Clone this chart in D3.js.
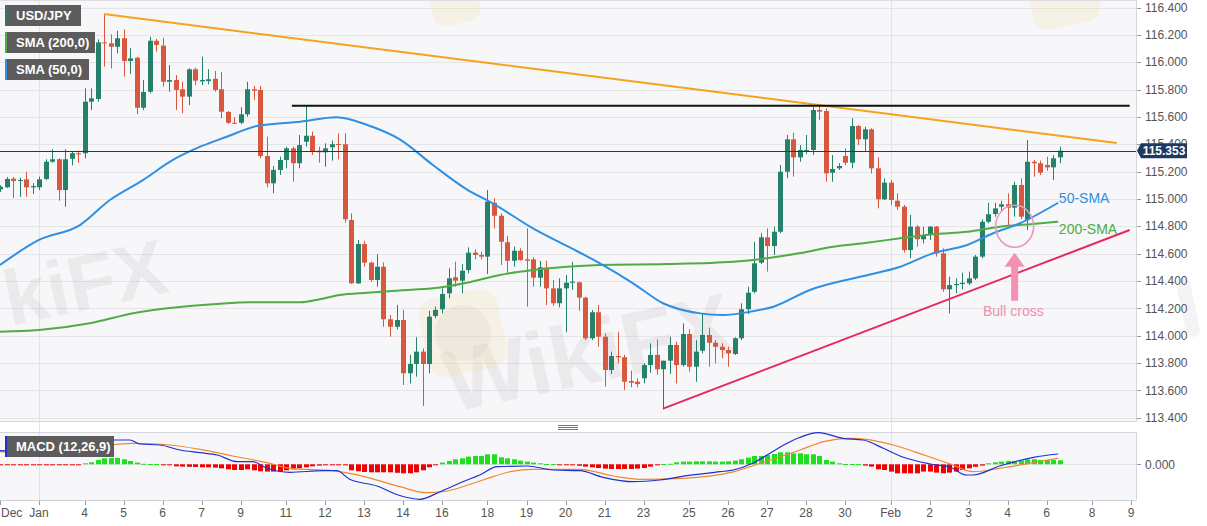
<!DOCTYPE html>
<html><head><meta charset="utf-8">
<script src="https://cdn.jsdelivr.net/npm/d3@7"></script>
<style>body{margin:0;background:#fff}svg{display:block;font-family:"Liberation Sans",Arial,sans-serif}</style>
</head><body><svg id="c" width="1207" height="526"></svg>
<script>
// ---------- DATA ----------
const firstIndex = -6; // candle index of first candle (4H candles)
// [open, high, low, close]
const ohlc = [
[115.070,115.100,115.050,115.089],[115.085,115.160,115.080,115.146],[115.148,115.160,115.007,115.131],[115.131,115.155,115.016,115.138],
[115.143,115.199,115.016,115.085],[115.085,115.116,115.036,115.094],[115.085,115.163,115.065,115.143],[115.146,115.290,115.138,115.272],
[115.272,115.363,115.265,115.290],[115.290,115.297,114.987,115.065],[115.065,115.363,114.943,115.290],[115.294,115.345,115.246,115.334],
[115.334,115.353,115.265,115.326],[115.334,115.809,115.297,115.711],[115.711,115.809,115.650,115.736],[115.731,116.167,115.711,116.145],
[116.145,116.358,115.967,116.138],[116.138,116.204,115.955,116.113],[116.113,116.230,116.065,116.175],[116.175,116.241,115.894,116.009],
[116.009,116.102,115.914,116.028],[116.033,116.040,115.619,115.667],[115.667,115.870,115.650,115.782],[115.784,116.186,115.772,116.157],
[116.157,116.170,116.077,116.126],[116.121,116.179,115.821,115.857],[115.857,115.979,115.784,115.870],[115.870,115.906,115.650,115.797],
[115.802,115.857,115.626,115.748],[115.748,115.955,115.687,115.948],[115.948,115.960,115.833,115.865],[115.860,116.040,115.833,115.870],
[115.862,115.948,115.838,115.875],[115.879,115.936,115.784,115.797],[115.802,115.930,115.590,115.638],[115.636,115.643,115.548,115.557],
[115.557,115.599,115.548,115.553],[115.557,115.670,115.548,115.619],[115.619,115.857,115.601,115.802],[115.802,115.826,115.723,115.791],
[115.797,115.826,115.297,115.314],[115.314,115.455,115.085,115.114],[115.114,115.241,115.041,115.212],[115.212,115.309,115.175,115.285],
[115.285,115.382,115.224,115.370],[115.370,115.382,115.126,115.261],[115.261,115.467,115.224,115.394],[115.418,115.674,115.382,115.462],
[115.462,115.492,115.321,115.345],[115.353,115.382,115.265,115.341],[115.341,115.407,115.236,115.370],[115.378,115.426,115.280,115.400],
[115.402,115.480,115.290,115.394],[115.400,115.480,114.826,114.851],[114.846,114.895,114.378,114.383],[114.383,114.700,114.378,114.670],
[114.670,114.694,114.504,114.534],[114.534,114.541,114.395,114.407],[114.407,114.595,114.358,114.504],[114.504,114.536,114.065,114.120],
[114.120,114.151,113.992,114.065],[114.065,114.224,114.046,114.114],[114.114,114.188,113.639,113.725],[113.725,113.859,113.651,113.793],
[113.793,113.988,113.700,113.883],[113.883,113.907,113.485,113.793],[113.793,114.182,113.725,114.139],[114.144,114.212,114.127,114.188],
[114.193,114.346,114.163,114.305],[114.310,114.493,114.273,114.419],[114.427,114.541,114.358,114.402],[114.402,114.524,114.310,114.475],
[114.480,114.646,114.456,114.607],[114.607,114.632,114.558,114.590],[114.590,114.614,114.558,114.578],[114.578,115.065,114.451,114.980],
[114.972,115.005,114.785,114.877],[114.877,114.895,114.517,114.687],[114.683,114.729,114.456,114.548],[114.548,114.651,114.504,114.621],
[114.621,114.639,114.548,114.553],[114.558,114.785,114.212,114.548],[114.558,114.573,114.358,114.424],[114.424,114.546,114.358,114.500],
[114.497,114.548,114.224,114.346],[114.346,114.407,114.217,114.237],[114.237,114.419,114.207,114.346],[114.346,114.444,114.025,114.387],
[114.387,114.541,114.334,114.395],[114.390,114.395,114.182,114.278],[114.278,114.285,113.968,113.981],[113.981,114.188,113.968,114.171],
[114.171,114.224,113.919,113.992],[113.992,114.017,113.627,113.749],[113.749,113.883,113.720,113.851],[113.851,114.029,113.798,113.842],
[113.842,113.859,113.603,113.663],[113.668,113.744,113.622,113.656],[113.663,113.688,113.622,113.646],[113.688,113.798,113.651,113.785],
[113.785,113.944,113.729,113.859],[113.859,113.973,113.713,113.754],[113.754,113.817,113.461,113.817],[113.817,113.992,113.720,113.932],
[113.932,113.956,113.651,113.785],[113.785,114.090,113.773,114.012],[114.012,114.046,113.736,113.773],[113.773,113.968,113.663,113.883],
[113.890,114.163,113.871,114.005],[114.005,114.058,113.773,113.948],[113.948,113.968,113.798,113.919],[113.919,113.944,113.834,113.895],
[113.895,113.919,113.773,113.871],[113.866,113.988,113.859,113.981],[113.981,114.237,113.968,114.193],[114.193,114.358,114.158,114.314],
[114.321,114.687,114.310,114.529],[114.534,114.749,114.524,114.719],[114.719,114.785,114.468,114.656],[114.656,114.797,114.590,114.760],
[114.760,115.248,114.749,115.199],[115.199,115.467,115.151,115.436],[115.436,115.484,115.163,115.304],[115.304,115.394,115.272,115.358],
[115.345,115.467,115.329,115.358],[115.358,115.674,115.321,115.650],[115.650,115.680,115.577,115.638],[115.643,115.663,115.126,115.187],
[115.192,115.321,115.126,115.219],[115.224,115.261,115.212,115.241],[115.314,115.370,115.248,115.265],[115.265,115.590,115.224,115.533],
[115.533,115.541,115.394,115.436],[115.436,115.528,115.345,115.509],[115.509,115.517,115.187,115.224],[115.224,115.304,114.931,114.997],
[114.997,115.151,114.992,115.119],[115.119,115.138,114.956,114.992],[114.987,115.041,114.919,114.943],[114.943,114.956,114.607,114.626],
[114.626,114.882,114.566,114.797],[114.797,114.809,114.651,114.705],[114.705,114.797,114.675,114.736],[114.736,114.802,114.700,114.797],
[114.797,114.802,114.578,114.602],[114.602,114.639,114.321,114.339],[114.339,114.431,114.163,114.370],[114.370,114.419,114.310,114.378],
[114.378,114.460,114.339,114.387],[114.383,114.468,114.370,114.419],[114.419,114.590,114.407,114.578],[114.578,114.851,114.566,114.833],
[114.833,114.972,114.822,114.888],[114.890,114.972,114.870,114.931],[114.943,114.987,114.907,114.961],[114.961,115.041,114.809,114.936],
[114.936,115.126,114.870,115.102],[115.102,115.151,114.851,114.870],[114.846,115.431,114.773,115.272],[115.272,115.285,115.163,115.261],
[115.261,115.280,115.175,115.192],[115.248,115.309,115.206,115.231],[115.231,115.321,115.138,115.297],[115.304,115.382,115.261,115.353]
];
const lastPrice = 115.353;

// [candle index, price]
const sma50 = [[-6,114.517],[0,114.70],[6.3,114.809],[10.9,114.992],[16,115.138],[20.6,115.285],[24.8,115.382],[28.9,115.455],[33.5,115.533],[40.2,115.565],[45.8,115.597],[50.5,115.541],[55.5,115.436],[60.6,115.248],[65.8,115.070],[69.8,114.968],[76,114.785],[81.2,114.656],[86.3,114.529],[91.4,114.383],[96,114.237],[101.7,114.163],[105.2,114.151],[109.4,114.175],[113,114.212],[118.6,114.334],[126.3,114.431],[132.5,114.504],[137.5,114.602],[142.8,114.663],[146.8,114.749],[150.9,114.822],[156.8,114.972]];
const sma200 = [[-6,114.029],[0,114.041],[7.8,114.090],[14.5,114.164],[19.7,114.200],[27.4,114.232],[32.5,114.244],[40.2,114.244],[43.2,114.266],[46.3,114.297],[50.5,114.314],[55.5,114.331],[60.6,114.346],[65.8,114.387],[70.9,114.444],[76,114.480],[81.2,114.504],[86.3,114.517],[96.6,114.524],[106.8,114.541],[112,114.566],[117.1,114.604],[122.2,114.651],[127.4,114.680],[132.5,114.712],[137.5,114.741],[142.8,114.760],[147.8,114.797],[152.9,114.817],[156.8,114.833]];

// trend lines [candle index, price]
const resistanceTrend = [[10,116.352],[165.8,115.409]];
const horizontalLevel = [[38.9,115.682],[167.8,115.682]];
const supportTrend = [[96,113.466],[167.8,114.773]];

// MACD (12,26,9): [candle index, value]
const macdLine = [[-6,0.136],[-0.9,0.126],[6.8,0.150],[9.4,0.210],[11.4,0.243],[14,0.243],[15.5,0.203],[18.6,0.193],[21.7,0.143],[24.8,0.116],[27.4,0.093],[30.5,0.026],[32.9,0.026],[35.1,-0.040],[38.6,-0.080],[43.7,-0.064],[45.8,-0.064],[47.8,-0.150],[52,-0.217],[55.5,-0.312],[58.6,-0.350],[61.7,-0.274],[65.2,-0.174],[67.8,-0.107],[70.5,-0.024],[75.1,-0.017],[79.1,-0.057],[83.2,-0.064],[86.8,-0.130],[91.4,-0.174],[95.5,-0.157],[99.7,-0.114],[104.8,-0.074],[106.8,-0.057],[109.8,0.010],[112,0.093],[115.1,0.210],[117.1,0.270],[119.9,0.316],[123.7,0.260],[126.8,0.243],[129.9,0.160],[133,0.070],[137.1,0.003],[140.2,-0.030],[142.7,-0.107],[143.7,-0.107],[147.8,-0.017],[153,0.070],[156.8,0.103]];
const signalLine = [[-6,0.126],[1.7,0.103],[6.8,0.126],[10.9,0.193],[14.5,0.210],[18.2,0.203],[24.8,0.150],[29.8,0.083],[35.1,0.016],[38.6,-0.040],[45.2,-0.064],[50.5,-0.130],[55.5,-0.224],[59.7,-0.284],[62.2,-0.274],[68.3,-0.157],[72.5,-0.074],[76,-0.050],[83.2,-0.050],[88.3,-0.117],[92.5,-0.150],[99.1,-0.140],[106.3,-0.084],[111,0.010],[117.1,0.143],[120.7,0.226],[124.8,0.260],[127.3,0.250],[131.4,0.193],[136.6,0.083],[140.2,0.003],[143.7,-0.074],[147.8,-0.040],[153,0.016],[156.8,0.060]];
// histogram, one value per candle from firstIndex
const histogram = [
-0.005,-0.005,-0.005,-0.005,-0.005,-0.005,-0.005,-0.005,-0.005,-0.005,-0.005,-0.005,-0.005,
0.01,0.02,0.043,0.06,0.063,0.063,0.05,0.033,0.017,0.005,0.003,0.003,
-0.005,-0.01,-0.02,-0.023,-0.025,-0.027,-0.03,-0.03,-0.033,-0.04,-0.05,-0.057,-0.057,-0.05,-0.06,
-0.07,-0.073,-0.073,-0.073,-0.06,-0.05,-0.04,-0.03,-0.02,-0.013,-0.01,-0.007,-0.005,-0.01,
-0.06,-0.07,-0.077,-0.08,-0.08,-0.08,-0.08,-0.085,-0.09,-0.09,-0.08,-0.06,-0.03,-0.01,
0.017,0.033,0.05,0.06,0.077,0.083,0.083,0.1,0.1,0.07,0.06,0.05,0.037,0.027,0.017,0.01,0.003,0.003,
-0.003,-0.003,-0.005,-0.015,-0.023,-0.03,-0.037,-0.043,-0.047,-0.047,-0.047,-0.047,-0.043,-0.037,-0.023,-0.01,
0.003,0.005,0.02,0.027,0.027,0.03,0.03,0.03,0.027,0.027,0.03,0.037,0.05,0.067,0.083,0.083,0.093,0.103,0.12,0.12,0.11,0.11,0.10,0.10,0.083,0.043,0.027,0.01,0.003,0.003,0.002,
-0.013,-0.023,-0.05,-0.057,-0.073,-0.09,-0.09,-0.09,-0.09,-0.073,-0.073,-0.083,-0.09,-0.083,-0.073,-0.057,-0.04,-0.025,-0.013,
0.01,0.02,0.027,0.033,0.033,0.037,0.05,0.05,0.043,0.043,0.043,0.04
];

// axes
const priceTicks = [113.4,113.6,113.8,114.0,114.2,114.4,114.6,114.8,115.0,115.2,115.4,115.6,115.8,116.0,116.2,116.4];
const xTickIdx = [-6,0,7,13,19,25,31,38,44,50,56,62,69,75,81,87,93,100,106,112,118,124,131,137,143,149,155,162,168];
const xTickLabels = ["Dec","Jan","4","5","6","7","9","11","12","13","14","16","18","19","20","21","23","25","26","27","28","30","Feb","2","3","4","6","8","9"];
const monthTickIdx = [0,131];

// annotations [candle index, price]
const label50 = [156.9,114.970];
const label200 = [156.9,114.743];
const bullCross = [150.1,114.800];
const arrowTop = [150.1,114.607];
const arrowBottom = [150.1,114.255];
const bullLabel = [149.9,114.144];

// ---------- DRAW ----------
const svg = d3.select('#c');
const plotR = 1136, priceBottom = 421.5, macdTop = 432, macdBottom = 500;
const x = d3.scaleLinear().domain([-6,168]).range([0,1131]);
const y = d3.scaleLinear().domain([113.4,116.4]).range([417.7,7.5]);
const ym = d3.scaleLinear().domain([-0.357,0.323]).range([macdBottom,macdTop]);

svg.append('rect').attr('width',1207).attr('height',526).attr('fill','#fff');
svg.append('rect').attr('x',0).attr('y',0).attr('width',plotR).attr('height',priceBottom).attr('fill','#f7f7f9');
svg.append('rect').attr('x',0).attr('y',macdTop).attr('width',plotR).attr('height',macdBottom-macdTop).attr('fill','#f7f7f9');

const defs = svg.append('defs');
defs.append('clipPath').attr('id','pc').append('rect').attr('x',0).attr('y',0).attr('width',plotR).attr('height',priceBottom);
defs.append('clipPath').attr('id','mc').append('rect').attr('x',0).attr('y',macdTop).attr('width',plotR).attr('height',macdBottom-macdTop);

// grid
const grid = svg.append('g');
grid.selectAll('.hg').data(priceTicks).join('line')
  .attr('x1',0).attr('x2',plotR).attr('y1',d=>Math.round(y(d))+0.5).attr('y2',d=>Math.round(y(d))+0.5)
  .attr('stroke','#e4e4e9').attr('stroke-width',1);
grid.selectAll('.vg').data(monthTickIdx).join('line')
  .attr('x1',d=>Math.round(x(d))+0.5).attr('x2',d=>Math.round(x(d))+0.5).attr('y1',0).attr('y2',macdBottom)
  .attr('stroke','#e2e2e8');
grid.append('line').attr('x1',0).attr('x2',plotR).attr('y1',Math.round(ym(0))+0.5).attr('y2',Math.round(ym(0))+0.5).attr('stroke','#e6e6ea');

// watermarks
const wm = svg.append('g').attr('pointer-events','none');
wm.append('text').attr('transform','translate(10,326) rotate(-12)').attr('text-anchor','start')
  .attr('font-size',78).attr('font-weight','bold').attr('fill','rgba(190,180,180,0.2)').text('kiFX');
wm.append('text').attr('transform','translate(738,352) rotate(-12)').attr('text-anchor','end')
  .attr('font-size',88).attr('font-weight','bold').attr('fill','rgba(190,180,180,0.2)').text('WikiFX');
wm.append('rect').attr('transform','translate(463,333) rotate(-12)').attr('x',-40).attr('y',-40).attr('width',80).attr('height',80).attr('rx',18)
  .attr('fill','rgba(245,225,160,0.22)');
wm.append('circle').attr('cx',463).attr('cy',333).attr('r',28).attr('fill','rgba(170,170,170,0.1)');
wm.append('rect').attr('transform','translate(455,4) rotate(-12)').attr('x',-24).attr('y',-24).attr('width',48).attr('height',44).attr('rx',12).attr('fill','rgba(245,225,160,0.22)');
wm.append('rect').attr('transform','translate(1065,4) rotate(-12)').attr('x',-34).attr('y',-26).attr('width',68).attr('height',48).attr('rx',14).attr('fill','rgba(245,225,160,0.22)');
wm.append('rect').attr('transform','translate(1200,310) rotate(-12)').attr('x',-18).attr('y',-35).attr('width',14).attr('height',60).attr('rx',6).attr('fill','rgba(190,180,180,0.15)');

// borders
svg.append('line').attr('x1',0).attr('x2',plotR).attr('y1',0.5).attr('y2',0.5).attr('stroke','#dcdce2');
svg.append('line').attr('x1',0).attr('x2',plotR+0.5).attr('y1',priceBottom).attr('y2',priceBottom).attr('stroke','#d4d4da');
svg.append('line').attr('x1',plotR+0.5).attr('x2',plotR+0.5).attr('y1',0).attr('y2',priceBottom).attr('stroke','#d4d4da');
svg.append('line').attr('x1',0).attr('x2',plotR+0.5).attr('y1',macdTop+0.5).attr('y2',macdTop+0.5).attr('stroke','#d4d4da');
svg.append('line').attr('x1',0).attr('x2',plotR+0.5).attr('y1',macdBottom+0.5).attr('y2',macdBottom+0.5).attr('stroke','#cfcfd6');
svg.append('line').attr('x1',plotR+0.5).attr('x2',plotR+0.5).attr('y1',macdTop).attr('y2',macdBottom).attr('stroke','#d4d4da');
// pane separator handle
[425,427,429].forEach(v=>svg.append('line').attr('x1',558).attr('x2',578).attr('y1',v+0.5).attr('y2',v+0.5).attr('stroke','#777'));

// candles
const GREEN = '#26816a', RED = '#d8573f';
const candles = ohlc.map((d,i)=>({k:firstIndex+i,o:d[0],h:d[1],l:d[2],c:d[3]}));
const cg = svg.append('g').attr('clip-path','url(#pc)');
cg.selectAll('.wick').data(candles).join('line')
  .attr('x1',d=>Math.round(x(d.k))+0.5).attr('x2',d=>Math.round(x(d.k))+0.5)
  .attr('y1',d=>y(d.h)).attr('y2',d=>y(d.l))
  .attr('stroke',d=>d.c>=d.o?GREEN:RED).attr('stroke-width',1);
cg.selectAll('.body').data(candles).join('rect')
  .attr('x',d=>Math.round(x(d.k))-2).attr('width',5)
  .attr('y',d=>Math.min(y(d.o),y(d.c)))
  .attr('height',d=>Math.max(1,Math.abs(y(d.o)-y(d.c))))
  .attr('fill',d=>d.c>=d.o?GREEN:RED);

// SMAs
const lg = svg.append('g').attr('clip-path','url(#pc)');
const line = d3.line().x(d=>x(d[0])).y(d=>y(d[1])).curve(d3.curveMonotoneX);
lg.append('path').attr('d',line(sma200)).attr('fill','none').attr('stroke','#4fac45').attr('stroke-width',2);
lg.append('path').attr('d',line(sma50)).attr('fill','none').attr('stroke','#2f8fe3').attr('stroke-width',2);

// trend lines
const sline = d3.line().x(d=>x(d[0])).y(d=>y(d[1]));
lg.append('path').attr('d',sline(resistanceTrend)).attr('stroke','#f7a21e').attr('stroke-width',2).attr('fill','none');
lg.append('path').attr('d',sline(horizontalLevel)).attr('stroke','#111').attr('stroke-width',2).attr('fill','none');
lg.append('path').attr('d',sline(supportTrend)).attr('stroke','#e8275f').attr('stroke-width',2).attr('fill','none');

// current price line
lg.append('line').attr('x1',0).attr('x2',plotR).attr('y1',Math.round(y(lastPrice))+0.5).attr('y2',Math.round(y(lastPrice))+0.5)
  .attr('stroke','#22375a').attr('stroke-width',1);

// annotations
const ann = svg.append('g');
ann.append('ellipse').attr('cx',x(bullCross[0])).attr('cy',y(bullCross[1])).attr('rx',19).attr('ry',21)
  .attr('fill','none').attr('stroke','#eb9ab6').attr('stroke-width',1.6);
{
  const ax = x(arrowTop[0]), at = y(arrowTop[1]), ab = y(arrowBottom[1]);
  const hh = 14, hw = 10, sw = 3.5;
  ann.append('path').attr('d',`M${ax},${at} L${ax+hw},${at+hh} L${ax+sw},${at+hh} L${ax+sw},${ab} L${ax-sw},${ab} L${ax-sw},${at+hh} L${ax-hw},${at+hh} Z`)
    .attr('fill','#f391b4');
}
ann.append('text').attr('x',x(label50[0])).attr('y',y(label50[1])).attr('font-size',14).attr('fill','#2f8fe3').text('50-SMA');
ann.append('text').attr('x',x(label200[0])).attr('y',y(label200[1])).attr('font-size',14).attr('fill','#4fac45').text('200-SMA');
ann.append('text').attr('x',x(bullLabel[0])).attr('y',y(bullLabel[1])).attr('text-anchor','middle').attr('font-size',14).attr('fill','#f08db0').text('Bull cross');

// MACD pane
const mg = svg.append('g').attr('clip-path','url(#mc)');
const hist = histogram.map((v,i)=>({k:firstIndex+i,v}));
mg.selectAll('.hb').data(hist).join('rect')
  .attr('x',d=>Math.round(x(d.k))-2).attr('width',5)
  .attr('y',d=>d.v>=0?ym(d.v):ym(0))
  .attr('height',d=>Math.max(1,Math.abs(ym(d.v)-ym(0))))
  .attr('fill',d=>d.v>=0?'#1fe01f':'#f20000');
const mline = d3.line().x(d=>x(d[0])).y(d=>ym(d[1])).curve(d3.curveMonotoneX);
mg.append('path').attr('d',mline(signalLine)).attr('fill','none').attr('stroke','#f0872e').attr('stroke-width',1.2);
mg.append('path').attr('d',mline(macdLine)).attr('fill','none').attr('stroke','#2030d0').attr('stroke-width',1.2);

// right price axis
const ra = svg.append('g');
ra.selectAll('.rt').data(priceTicks).join('line')
  .attr('x1',plotR+1).attr('x2',plotR+5).attr('y1',d=>Math.round(y(d))+0.5).attr('y2',d=>Math.round(y(d))+0.5).attr('stroke','#999');
ra.selectAll('.rl').data(priceTicks).join('text')
  .attr('x',plotR+9).attr('y',d=>y(d)).attr('dy','0.35em').attr('font-size',12).attr('fill','#555')
  .text(d=>d3.format('.3f')(d));
ra.append('line').attr('x1',plotR+1).attr('x2',plotR+5).attr('y1',Math.round(ym(0))+0.5).attr('y2',Math.round(ym(0))+0.5).attr('stroke','#999');
ra.append('text').attr('x',plotR+9).attr('y',ym(0)).attr('dy','0.35em').attr('font-size',12).attr('fill','#555').text(d3.format('.3f')(0));

// last price label
{
  const ly = y(lastPrice);
  ra.append('path').attr('d',`M${plotR+1},${ly} L${plotR+5},${ly-7.5} L${plotR+51},${ly-7.5} L${plotR+51},${ly+7.5} L${plotR+5},${ly+7.5} Z`).attr('fill','#1f3a62');
  ra.append('text').attr('x',plotR+28).attr('y',ly).attr('dy','0.36em').attr('text-anchor','middle')
    .attr('font-size',12).attr('font-weight','bold').attr('fill','#fff').text(d3.format('.3f')(lastPrice));
}

// bottom axis
const ba = svg.append('g');
ba.selectAll('.bt').data(xTickIdx).join('line')
  .attr('x1',d=>Math.round(x(d))+0.5).attr('x2',d=>Math.round(x(d))+0.5).attr('y1',macdBottom+1).attr('y2',macdBottom+5).attr('stroke','#999');
ba.selectAll('.bl').data(xTickIdx).join('text')
  .attr('x',(d,i)=>i===0?1:x(d)).attr('y',517).attr('text-anchor',(d,i)=>i===0?'start':'middle')
  .attr('font-size',12).attr('fill','#555').text((d,i)=>xTickLabels[i]);

// legends
function legend(yTop,w,color,txt){
  const g = svg.append('g');
  g.append('rect').attr('x',5).attr('y',yTop).attr('width',w).attr('height',21).attr('fill','#5c5c5c');
  g.append('rect').attr('x',5).attr('y',yTop).attr('width',2).attr('height',21).attr('fill',color);
  g.append('text').attr('x',16).attr('y',yTop+10.5).attr('dy','0.35em').attr('font-size',13).attr('font-weight','bold').attr('fill','#fff').text(txt);
}
legend(5,76,'#2b7a64','USD/JPY');
legend(32,90,'#4fac45','SMA (200,0)');
legend(59,84,'#2f8fe3','SMA (50,0)');
legend(436,109,'#2030d0','MACD (12,26,9)');
</script></body></html>
